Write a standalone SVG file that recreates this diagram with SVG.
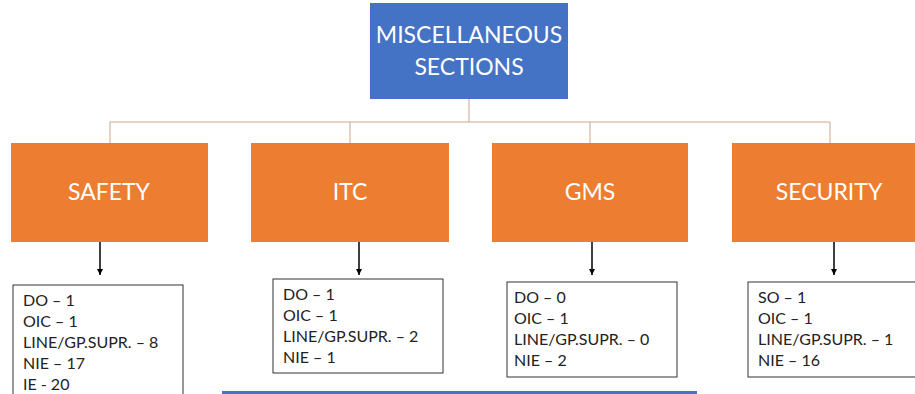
<svg xmlns="http://www.w3.org/2000/svg" width="915" height="394" viewBox="0 0 915 394">
  <defs>
    <marker id="arrow" viewBox="0 0 10 10" refX="10" refY="5" markerWidth="6" markerHeight="6" markerUnits="userSpaceOnUse" orient="auto">
      <path d="M0,0 L10,5 L0,10 z" fill="#000"/>
    </marker>
    <style>
      .root { fill: #4472C4; }
      .dept { fill: #ED7D31; }
      .title { font-family: Lato, "Open Sans", sans-serif; fill: #ffffff; text-anchor: middle; }
      .list { fill: #ffffff; stroke: #333333; stroke-width: 1; }
      .item { font-family: Lato, "Open Sans", sans-serif; font-size: 16px; fill: #222222; }
      .tree { fill: none; stroke: #C9A68C; stroke-width: 1; }
      .down { fill: none; stroke: #000000; stroke-width: 1.5; marker-end: url(#arrow); }
    </style>
  </defs>

  <rect width="915" height="394" fill="#ffffff"/>

  <!-- top-level section -->
  <g id="misc">
    <rect class="root" x="370" y="3" width="198" height="96"/>
    <text class="title" x="469" y="43" font-size="23">MISCELLANEOUS</text>
    <text class="title" x="469" y="75" font-size="23">SECTIONS</text>
  </g>

  <!-- connectors -->
  <g id="connectors">
    <path class="tree" d="M469,99 V122 M110,122 H830 M110,122 V143 M350,122 V143 M590,122 V143 M830,122 V143"/>
    <line class="down" x1="100" y1="242" x2="100" y2="275"/>
    <line class="down" x1="359" y1="242" x2="359" y2="275"/>
    <line class="down" x1="592" y1="242" x2="592" y2="275"/>
    <line class="down" x1="834" y1="242" x2="834" y2="275"/>
  </g>

  <!-- departments -->
  <g id="safety">
    <rect class="dept" x="11" y="143" width="197" height="99"/>
    <text class="title" x="109" y="200" font-size="23">SAFETY</text>
  </g>
  <g id="itc">
    <rect class="dept" x="251" y="143" width="198" height="99"/>
    <text class="title" x="350" y="200" font-size="23">ITC</text>
  </g>
  <g id="gms">
    <rect class="dept" x="492" y="143" width="196" height="99"/>
    <text class="title" x="590" y="200" font-size="23">GMS</text>
  </g>
  <g id="security">
    <rect class="dept" x="732" y="143" width="197" height="99"/>
    <text class="title" x="829" y="200" font-size="23">SECURITY</text>
  </g>

  <!-- staff lists -->
  <g id="safety-staff">
    <rect class="list" x="13" y="285" width="170" height="120"/>
    <text class="item" x="23" y="306">DO – 1</text>
    <text class="item" x="23" y="327">OIC – 1</text>
    <text class="item" x="23" y="348">LINE/GP.SUPR. – 8</text>
    <text class="item" x="23" y="369">NIE – 17</text>
    <text class="item" x="23" y="390">IE - 20</text>
  </g>
  <g id="itc-staff">
    <rect class="list" x="273" y="279" width="170" height="94"/>
    <text class="item" x="283" y="300">DO – 1</text>
    <text class="item" x="283" y="321">OIC – 1</text>
    <text class="item" x="283" y="342">LINE/GP.SUPR. – 2</text>
    <text class="item" x="283" y="363">NIE – 1</text>
  </g>
  <g id="gms-staff">
    <rect class="list" x="507" y="282" width="170" height="95"/>
    <text class="item" x="514" y="303">DO – 0</text>
    <text class="item" x="514" y="324">OIC – 1</text>
    <text class="item" x="514" y="345">LINE/GP.SUPR. – 0</text>
    <text class="item" x="514" y="366">NIE – 2</text>
  </g>
  <g id="security-staff">
    <rect class="list" x="748" y="282" width="170" height="95"/>
    <text class="item" x="758" y="303">SO – 1</text>
    <text class="item" x="758" y="324">OIC – 1</text>
    <text class="item" x="758" y="345">LINE/GP.SUPR. – 1</text>
    <text class="item" x="758" y="366">NIE – 16</text>
  </g>

  <!-- next section, continuing below -->
  <g id="lower-section">
    <rect class="root" x="222" y="391" width="475" height="10"/>
  </g>
</svg>
